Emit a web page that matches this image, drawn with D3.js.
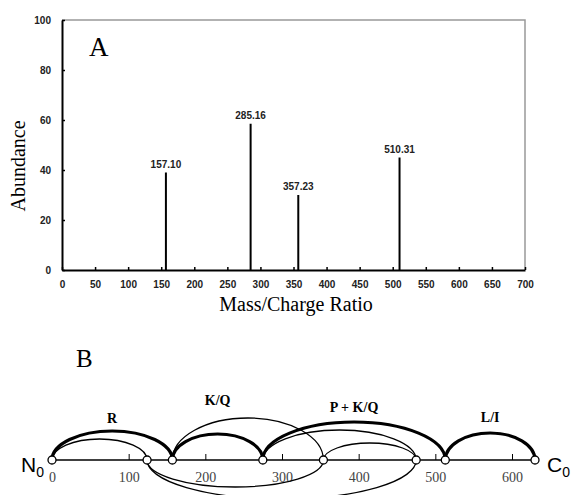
<!DOCTYPE html>
<html>
<head>
<meta charset="utf-8">
<script src="https://cdn.jsdelivr.net/npm/d3@7"></script>
<style>
  body { margin: 0; background: #fff; }
  .tickA text { font-family: "Liberation Sans", Arial, sans-serif; font-weight: bold; font-size: 10px; fill: #222; }
  .tickB text { font-family: "Liberation Serif", "Times New Roman", serif; font-size: 14px; fill: #444; }
</style>
</head>
<body>
<svg width="574" height="495"></svg>
<script>
// panel A: spectrum
const peakMz = [157.10, 285.16, 357.23, 510.31];
const peakAbundance = [39, 58.5, 30, 45];
const peakLabels = ['157.10', '285.16', '357.23', '510.31'];
const mzTicks = d3.range(0, 701, 50);
const abundanceTicks = [0, 20, 40, 60, 80, 100];

// panel B: mass ladder
const nodeMass = [0, 124, 157, 275, 354, 475, 513, 630];
const ladderTicks = [0, 100, 200, 300, 400, 500, 600];
const arcStart = [0, 157, 275, 513, 0, 157, 275, 354, 124, 124];
const arcEnd = [157, 275, 513, 630, 124, 354, 475, 475, 354, 475];
const arcBold = [true, true, true, true, false, false, false, false, false, false];
const arcBelow = [false, false, false, false, false, false, false, false, true, true];
const arcLabels = ['R', 'K/Q', 'P + K/Q', 'L/I'];

// drawing sizes (px), not data
const arcLift = [29, 26, 38, 27, 21, 42, 30, 17, 27, 39];
const labelLift = [37, 55, 48, 38];

const svg = d3.select('svg');

// ---------- A ----------
const x = d3.scaleLinear().domain([0, 700]).range([62, 525]);
const y = d3.scaleLinear().domain([0, 100]).range([270, 20]);

// grey frame top/right
svg.append('path')
  .attr('d', `M${x(0)},${y(100)}H${x(700)}V${y(0)}`)
  .attr('fill', 'none')
  .attr('stroke', '#999')
  .attr('stroke-width', 1.5);

const xAxis = svg.append('g')
  .attr('class', 'tickA')
  .attr('transform', `translate(0,${y(0)})`)
  .call(d3.axisBottom(x).tickValues(mzTicks).tickSizeInner(-3).tickSizeOuter(0).tickPadding(11));

const yAxis = svg.append('g')
  .attr('class', 'tickA')
  .attr('transform', `translate(${x(0)},0)`)
  .call(d3.axisLeft(y).tickValues(abundanceTicks).tickSizeInner(-3).tickSizeOuter(0).tickPadding(11));

[xAxis, yAxis].forEach(g => {
  g.select('.domain').attr('stroke', '#000').attr('stroke-width', 2);
  g.selectAll('.tick line').attr('stroke', '#000').attr('stroke-width', 1.5);
  g.selectAll('text').attr('fill', '#222');
});

svg.selectAll('line.peak')
  .data(peakMz)
  .enter()
  .append('line')
    .attr('class', 'peak')
    .attr('x1', d => x(d))
    .attr('x2', d => x(d))
    .attr('y1', y(0))
    .attr('y2', (d, i) => y(peakAbundance[i]))
    .attr('stroke', '#000')
    .attr('stroke-width', 2);

svg.selectAll('text.peak')
  .data(peakMz)
  .enter()
  .append('text')
    .attr('class', 'peak')
    .attr('x', d => x(d))
    .attr('y', (d, i) => y(peakAbundance[i]) - 5)
    .attr('text-anchor', 'middle')
    .style('font-family', '"Liberation Sans", Arial, sans-serif')
    .style('font-weight', 'bold')
    .style('font-size', '10px')
    .attr('fill', '#222')
    .text((d, i) => peakLabels[i]);

const serif = '"Liberation Serif", "Times New Roman", serif';

svg.append('text')
  .text('Abundance')
  .attr('transform', 'translate(25,166) rotate(-90)')
  .attr('text-anchor', 'middle')
  .style('font-family', serif)
  .style('font-size', '20px');

svg.append('text')
  .text('Mass/Charge Ratio')
  .attr('x', 296)
  .attr('y', 311)
  .attr('text-anchor', 'middle')
  .style('font-family', serif)
  .style('font-size', '20px');

svg.append('text')
  .text('A')
  .attr('x', 89)
  .attr('y', 56)
  .style('font-family', serif)
  .style('font-size', '27px');

// ---------- B ----------
svg.append('text')
  .text('B')
  .attr('x', 76)
  .attr('y', 367)
  .style('font-family', serif)
  .style('font-size', '25px');

const xb = d3.scaleLinear().domain([0, 600]).range([52, 512]);
const baseY = 460;

svg.append('line')
  .attr('x1', xb(nodeMass[0]))
  .attr('x2', xb(nodeMass[nodeMass.length - 1]))
  .attr('y1', baseY)
  .attr('y2', baseY)
  .attr('stroke', '#000')
  .attr('stroke-width', 1.3);

const bAxis = svg.append('g')
  .attr('class', 'tickB')
  .attr('transform', `translate(0,${baseY})`)
  .call(d3.axisBottom(xb).tickValues(ladderTicks).tickFormat(d3.format('d'))
    .tickSizeInner(-6).tickSizeOuter(0).tickPadding(12));
bAxis.select('.domain').remove();
bAxis.selectAll('.tick line').attr('stroke', '#000').attr('stroke-width', 1);

const arcPath = (i) => {
  const x1 = xb(arcStart[i]);
  const x2 = xb(arcEnd[i]);
  const rx = (x2 - x1) / 2;
  const ry = arcLift[i];
  const sweep = arcBelow[i] ? 0 : 1;
  return `M${x1},${baseY}A${rx},${ry} 0 0 ${sweep} ${x2},${baseY}`;
};

svg.selectAll('path.arc')
  .data(arcStart)
  .enter()
  .append('path')
    .attr('class', 'arc')
    .attr('d', (d, i) => arcPath(i))
    .attr('fill', 'none')
    .attr('stroke', '#000')
    .attr('stroke-width', (d, i) => arcBold[i] ? 3.2 : 1.3);

svg.selectAll('circle.node')
  .data(nodeMass)
  .enter()
  .append('circle')
    .attr('class', 'node')
    .attr('cx', d => xb(d))
    .attr('cy', baseY)
    .attr('r', 4)
    .attr('fill', '#fff')
    .attr('stroke', '#000')
    .attr('stroke-width', 1.3);

svg.selectAll('text.arcLabel')
  .data(arcLabels)
  .enter()
  .append('text')
    .attr('class', 'arcLabel')
    .attr('x', (d, i) => (xb(arcStart[i]) + xb(arcEnd[i])) / 2)
    .attr('y', (d, i) => baseY - labelLift[i])
    .attr('text-anchor', 'middle')
    .style('font-family', serif)
    .style('font-weight', 'bold')
    .style('font-size', '14px')
    .text(d => d);

const sans = '"Liberation Sans", Arial, sans-serif';
const endLabel = (letter, xPos, anchor) => {
  const t = svg.append('text')
    .attr('x', xPos)
    .attr('y', 472)
    .attr('text-anchor', anchor)
    .style('font-family', sans)
    .style('font-size', '21px');
  t.append('tspan').text(letter);
  t.append('tspan').attr('dy', 5).style('font-size', '14px').text('0');
};
endLabel('N', 44, 'end');
endLabel('C', 547, 'start');
</script>
</body>
</html>
